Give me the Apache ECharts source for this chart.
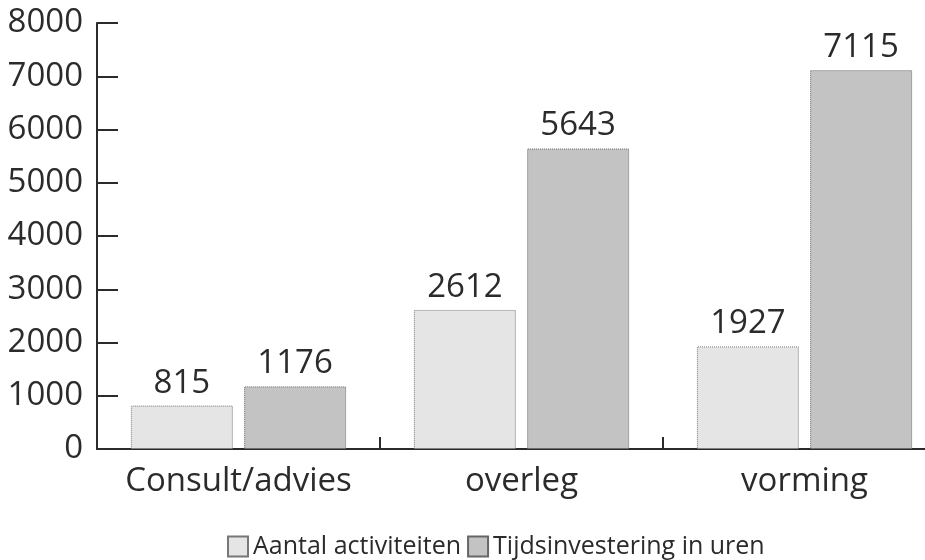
<!DOCTYPE html>
<html>
<head>
<meta charset="utf-8">
<script src="https://cdn.jsdelivr.net/npm/echarts@6/dist/echarts.min.js"></script>
<style>html,body{margin:0;padding:0;background:#fff}#c{width:925px;height:560px}</style>
</head>
<body>
<div id="c"></div>
<script>
const categories = ['Consult/advies', 'overleg', 'vorming']
const aantal = [815, 2612, 1927]
const uren = [1176, 5643, 7115]
const seriesNames = ['Aantal activiteiten', 'Tijdsinvestering in uren']

const INK = '#2b2b2b'
const FONT = '"Open Sans", "DejaVu Sans Condensed", sans-serif'

const chart = echarts.init(document.getElementById('c'), null, { renderer: 'canvas' })

const barBase = {
  type: 'bar', barWidth: 102, barGap: '11%',
  label: { show: true, position: 'top', distance: 6, color: INK,
    fontSize: 33, fontFamily: FONT },
}

chart.setOption({
  animation: false,
  textStyle: { fontFamily: FONT },
  // 类目轴右端超出画布,与原图一致
  grid: { left: 97, top: 23, bottom: 111, width: 849, outerBoundsMode: 'none', containLabel: false },
  legend: {
    top: 529, left: 222, itemWidth: 20, itemHeight: 20, itemGap: 6,
    icon: 'rect',
    textStyle: { color: INK, fontSize: 25, fontFamily: FONT },
    data: seriesNames,
  },
  xAxis: {
    type: 'category', data: categories,
    axisLine: { lineStyle: { color: INK, width: 2 } },
    axisTick: { show: true, inside: true, interval: 0, length: 12, lineStyle: { color: INK, width: 2 } },
    axisLabel: { color: INK, fontSize: 33, margin: 16, interval: 0, fontFamily: FONT },
  },
  yAxis: {
    type: 'value', min: 0, max: 8000, interval: 1000,
    axisLine: { show: true, lineStyle: { color: INK, width: 2 } },
    axisTick: { show: true, inside: true, length: 21, lineStyle: { color: INK, width: 2 } },
    axisLabel: { color: INK, fontSize: 33, margin: 14, fontFamily: FONT,
      formatter: v => String(v) },
    splitLine: { show: false },
  },
  series: [
    { ...barBase, name: seriesNames[0], data: aantal,
      itemStyle: { color: '#e5e5e5', borderColor: '#777', borderWidth: 1, borderType: 'dotted' } },
    { ...barBase, name: seriesNames[1], data: uren,
      itemStyle: { color: '#c3c3c3', borderColor: '#666', borderWidth: 1, borderType: 'dotted' } },
  ],
})
</script>
</body>
</html>
